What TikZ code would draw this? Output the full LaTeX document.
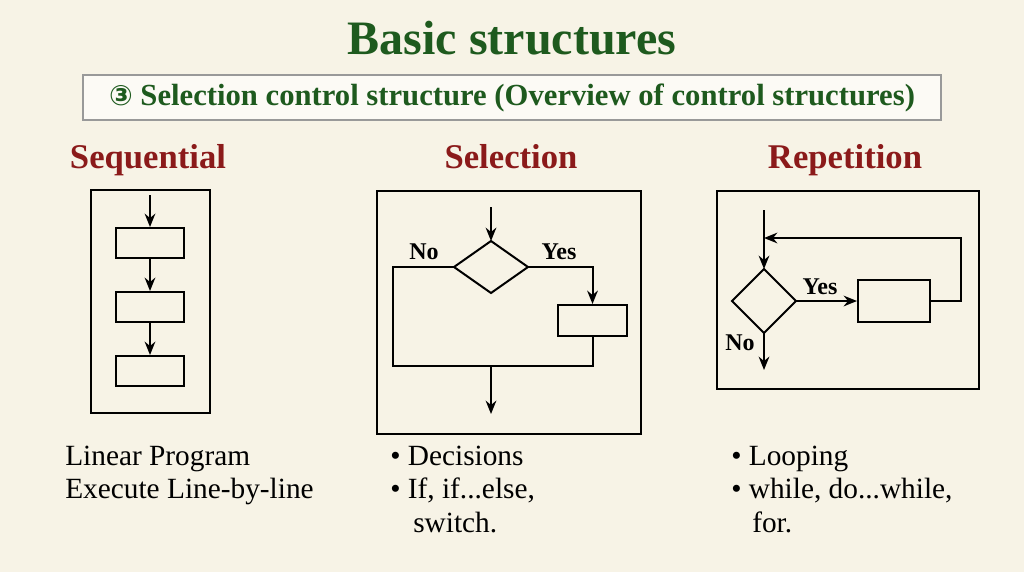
\documentclass[tikz,border=0pt]{standalone}
\usepackage{fontspec}
\setmainfont{Liberation Serif}
\newfontfamily\symf{DejaVu Sans}
\usetikzlibrary{arrows.meta}
\definecolor{bg}{HTML}{F7F3E6}
\definecolor{tgreen}{HTML}{1E5A1E}
\definecolor{hred}{HTML}{8B1A1A}
\begin{document}
\begin{tikzpicture}[x=0.75pt,y=-0.75pt,
  ln/.style={line width=1.5pt,black},
  ar/.style={ln,-{Stealth[length=10pt,width=8pt]}},
  bx/.style={draw,line width=1.5pt,inner sep=0,anchor=north west},
  lab/.style={font=\bfseries\fontsize{18}{20}\selectfont,anchor=base,inner sep=0},
  body/.style={font=\fontsize{22}{26}\selectfont,anchor=base west,inner sep=0},
  head/.style={font=\bfseries\fontsize{26}{30}\selectfont,text=hred,anchor=base,inner sep=0}]
\fill[bg] (0,0) rectangle (1024,572);
\node[font=\bfseries\fontsize{36}{40}\selectfont,text=tgreen,anchor=base,inner sep=0] (title) at (512,54) {Basic structures};
\node[draw=gray!80,fill=white!60!bg,line width=0.8pt,minimum width=643.5pt,minimum height=33.75pt,
  font=\bfseries\fontsize{23}{26}\selectfont,text=tgreen] (sub) at (512,97.5) {{\symf\fontsize{21}{24}\selectfont ③} Selection control structure (Overview of control structures)};
\node[head] (h1) at (148,168) {Sequential};
\node[head] (h2) at (511,168) {Selection};
\node[head] (h3) at (845,168) {Repetition};
% Sequential
\node[bx,minimum width=89.25pt,minimum height=167.25pt] (f1) at (90,189) {};
\node[bx,minimum width=51pt,minimum height=22.5pt] (r1) at (115,227) {};
\node[bx,minimum width=51pt,minimum height=22.5pt] (r2) at (115,291) {};
\node[bx,minimum width=51pt,minimum height=22.5pt] (r3) at (115,355) {};
\coordinate (s0) at (r1.north |- 0,195);
\draw[ar] (s0) -- (r1.north);
\draw[ar] (r1.south) -- (r2.north);
\draw[ar] (r2.south) -- (r3.north);
% Selection
\node[bx,minimum width=198pt,minimum height=182.25pt] (f2) at (376,190) {};
\coordinate (e0) at (491,207);
\path (491,267) coordinate (dc) ++(-37,0) coordinate (dl) ++(37,-26) coordinate (dt) ++(37,26) coordinate (dr) ++(-37,26) coordinate (db);
\node[bx,minimum width=51.75pt,minimum height=23.25pt] (rs) at (557,304) {};
\coordinate (jl) at (393,366); \coordinate (jm) at (491,366); \coordinate (ex) at (491,414);
\draw[ar] (e0) -- (dt);
\draw[ln] (dl) -- (393,267) -- (jl) -- (rs.south |- jl) -- (rs.south);
\draw[ar] (dr) -- (rs.north |- dr) -- (rs.north);
\draw[ar] (jm) -- (ex);
\node[lab] (no1) at (424,259) {No};
\node[lab] (yes1) at (559,259) {Yes};
% Repetition
\node[bx,minimum width=196.5pt,minimum height=148.5pt] (f3) at (716,190) {};
\coordinate (q0) at (764,210);
\node[bx,minimum width=54pt,minimum height=31.5pt] (rr) at (857,279) {};
\path (764,0 |- rr.west) coordinate (qc) ++(-32,0) coordinate (ql) ++(32,-32) coordinate (qt) ++(32,32) coordinate (qr) ++(-32,32) coordinate (qb);
\coordinate (qx) at (764,370);
\coordinate (l1) at (961,238);
\draw[ar] (q0) -- (qt);
\draw[ar] (rr.east) -- (l1 |- rr.east) -- (l1) -- (764,238);
\draw[ar] (qr) -- (rr.west);
\draw[ar] (qb) -- (qx);
\node[lab] (yes2) at (820,294) {Yes};
\node[lab] (no2) at (740,350) {No};
% diamonds
\draw[ln,fill=bg] (dl) -- (dt) -- (dr) -- (db) -- cycle;
\draw[ln,fill=bg] (ql) -- (qt) -- (qr) -- (qb) -- cycle;
% texts
\node[body] (t1) at (65,465) {Linear Program};
\node[body] (t2) at (65,498) {Execute Line-by-line};
\node[body] (t3) at (390,465) {• Decisions};
\node[body] (t4) at (390,498) {• If, if...else,};
\node[body] (t5) at (413,532) {switch.};
\node[body] (t6) at (731,465) {• Looping};
\node[body] (t7) at (731,498) {• while, do...while,};
\node[body] (t8) at (752,532) {for.};
\end{tikzpicture}
\end{document}
